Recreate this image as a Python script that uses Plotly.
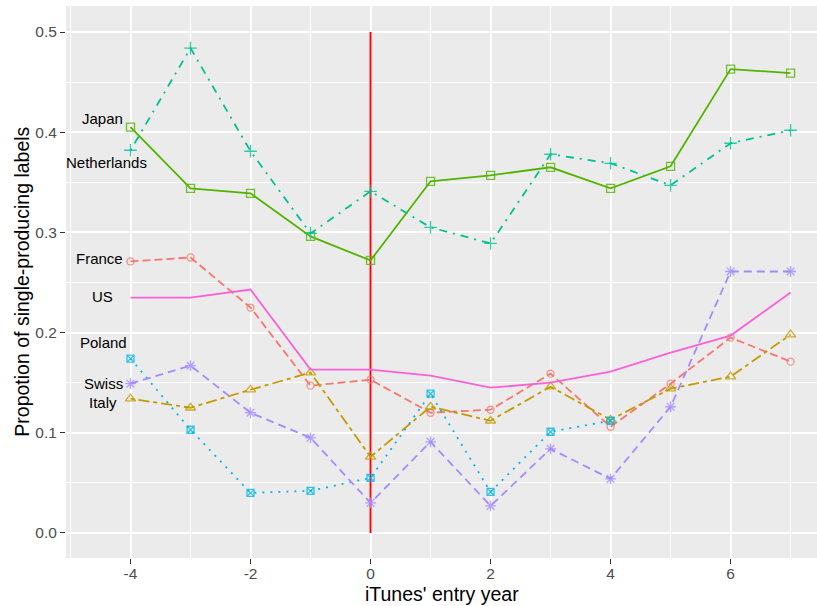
import plotly.graph_objects as go

# Years relative to iTunes' entry into each national market
years = [-4, -3, -2, -1, 0, 1, 2, 3, 4, 5, 6, 7]
poland_years = [-4, -3, -2, -1, 0, 1, 2, 3, 4]

# Share of labels that released only singles, per country
france = [0.271, 0.275, 0.225, 0.147, 0.153, 0.120, 0.123, 0.159, 0.106, 0.149, 0.195, 0.171]
italy = [0.134, 0.125, 0.143, 0.160, 0.076, 0.126, 0.112, 0.146, 0.113, 0.144, 0.156, 0.198]
japan = [0.405, 0.344, 0.339, 0.296, 0.272, 0.351, 0.357, 0.365, 0.344, 0.366, 0.463, 0.459]
netherlands = [0.382, 0.484, 0.381, 0.299, 0.341, 0.305, 0.289, 0.378, 0.369, 0.347, 0.389, 0.402]
poland = [0.174, 0.103, 0.040, 0.042, 0.055, 0.139, 0.041, 0.101, 0.112]
swiss = [0.149, 0.167, 0.120, 0.095, 0.030, 0.091, 0.027, 0.084, 0.054, 0.126, 0.261, 0.261]
us = [0.235, 0.235, 0.243, 0.163, 0.163, 0.157, 0.145, 0.150, 0.161, 0.180, 0.197, 0.240]

# Axis tick positions and their labels (plain hyphen minus)
x_ticks = [-4, -2, 0, 2, 4, 6]
x_ticktext = ["-4", "-2", "0", "2", "4", "6"]
y_ticks = [0.0, 0.1, 0.2, 0.3, 0.4, 0.5]
y_ticktext = ["0.0", "0.1", "0.2", "0.3", "0.4", "0.5"]

# Country name labels placed to the left of the first year
label_names = ["Japan", "Netherlands", "France", "US", "Poland", "Swiss", "Italy"]
label_x = [-4.467, -4.405, -4.51, -4.467, -4.455, -4.453, -4.455]
label_y = [0.414, 0.370, 0.274, 0.236, 0.190, 0.149, 0.130]

# Entry marker (vertical reference line)
entry_x = [0, 0]
entry_y = [0.0, 0.5]

FONT = "Liberation Sans, Arial, sans-serif"

series = [
    # name, x, y, colour, dash, marker symbol, marker size
    ("France", years, france, "#F8766D", "8px,4px", "circle-open", 7),
    ("Italy", years, italy, "#C49A00", "4px,4px,11px,4px", "triangle-up-open", 9),
    ("Japan", years, japan, "#53B400", "solid", "square-open", 8),
    ("Netherlands", years, netherlands, "#00C094", "2px,6px,8px,6px", "cross-thin-open", 9),
    ("Poland", poland_years, poland, "#00B6EB", "2px,6px", "square-x-open", 7),
    ("Swiss", years, swiss, "#A58AFF", "8px,5px", "asterisk-open", 9),
    ("US", years, us, "#FB61D7", "solid", None, 0),
]

fig = go.Figure()

fig.add_trace(go.Scatter(
    x=entry_x, y=entry_y, mode="lines",
    line=dict(color="#FF0000", width=1.9),
    showlegend=False, hoverinfo="skip",
))

for name, xs, ys, col, dash, sym, size in series:
    if sym is None:
        fig.add_trace(go.Scatter(
            x=xs, y=ys, mode="lines", name=name,
            line=dict(color=col, width=1.8, dash=dash),
            showlegend=False,
        ))
    else:
        fig.add_trace(go.Scatter(
            x=xs, y=ys, mode="lines+markers", name=name,
            line=dict(color=col, width=1.8, dash=dash),
            marker=dict(symbol=sym, size=size, color=col,
                        line=dict(color=col, width=1.3), opacity=0.8),
            showlegend=False,
        ))

for txt, lx, ly in zip(label_names, label_x, label_y):
    fig.add_annotation(
        x=lx, y=ly, xref="x", yref="y", text=txt, showarrow=False,
        xanchor="center", yanchor="middle",
        font=dict(family=FONT, size=15, color="black"),
    )

# Axis titles
fig.add_annotation(
    x=0.5, y=-0.066, xref="paper", yref="paper", text="iTunes' entry year",
    showarrow=False, xanchor="center", yanchor="middle",
    font=dict(family=FONT, size=19.5, color="black"),
)
fig.add_annotation(
    x=-0.059, y=0.5, xref="paper", yref="paper",
    text="Propotion of single-producing labels", textangle=-90,
    showarrow=False, xanchor="center", yanchor="middle",
    font=dict(family=FONT, size=19.5, color="black"),
)

fig.update_layout(
    width=817, height=606,
    margin=dict(l=66, r=0, t=6, b=48),
    paper_bgcolor="white",
    plot_bgcolor="#EBEBEB",
    font=dict(family=FONT),
    showlegend=False,
)

fig.update_xaxes(
    range=[-5.075, 7.44],
    tickmode="array", tickvals=x_ticks, ticktext=x_ticktext,
    ticks="outside", ticklen=5, tickwidth=1, tickcolor="#333333",
    ticklabelstandoff=-4,
    tickfont=dict(family=FONT, size=15.5, color="#4D4D4D"),
    showgrid=True, gridcolor="white", gridwidth=1.8,
    minor=dict(tickmode="array", tickvals=[-5, -3, -1, 1, 3, 5, 7],
               showgrid=True, gridcolor="white", gridwidth=0.9),
    zeroline=False, showline=False,
)
fig.update_yaxes(
    range=[-0.025, 0.526],
    tickmode="array", tickvals=y_ticks, ticktext=y_ticktext,
    ticks="outside", ticklen=5, tickwidth=1, tickcolor="#333333",
    tickfont=dict(family=FONT, size=15.5, color="#4D4D4D"),
    showgrid=True, gridcolor="white", gridwidth=1.8,
    minor=dict(tickmode="array", tickvals=[0.05, 0.15, 0.25, 0.35, 0.45],
               showgrid=True, gridcolor="white", gridwidth=0.9),
    zeroline=False, showline=False,
)

fig.write_html("out.html")
